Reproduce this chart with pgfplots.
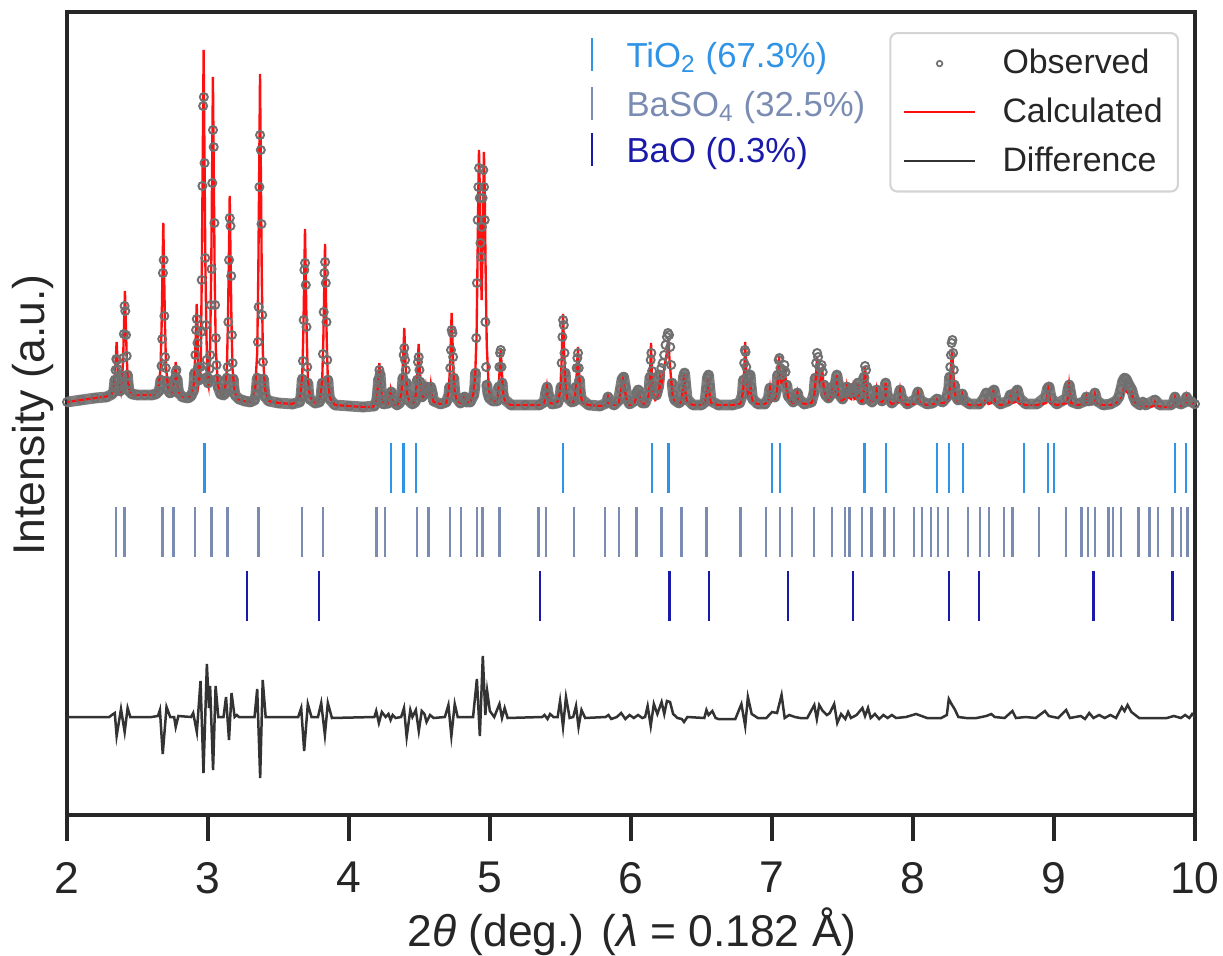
\documentclass[border=0pt]{standalone}
\usepackage{fontspec}
\setmainfont{Liberation Sans}
\usepackage{pgfplots}
\usepackage{pgfplotstable}
\pgfplotsset{compat=1.18}
\definecolor{dark}{HTML}{262626}
\definecolor{obsgray}{HTML}{707070}
\definecolor{calcred}{HTML}{FF1010}
\definecolor{diffcol}{HTML}{333333}
\definecolor{tiocol}{HTML}{2F93E6}
\definecolor{basocol}{HTML}{7B8CB3}
\definecolor{baocol}{HTML}{1A1AAA}
\definecolor{leggray}{HTML}{D4D4D4}
\pgfplotsset{linelegend/.style={legend image code/.code={\draw[##1] (0pt,0pt) -- (25.6pt,0pt);}}}

\pgfplotstableread{
x y
2.00 413
2.10 415
2.20 417
2.28 418
2.322 421
2.3295 423
2.3345 427
2.3395 435
2.3445 445
2.3495 456
2.3545 455
2.3595 446
2.3645 436
2.3695 428
2.376 424
2.3835 425
2.3885 430
2.3935 439
2.3985 457
2.4035 481
2.4085 509
2.4135 504
2.4185 480
2.4235 459
2.4285 440
2.4335 431
2.441 424
2.46 421
2.50 420
2.55 420
2.60 420
2.63 421
2.653 424
2.6605 429
2.6655 435
2.6705 449
2.6755 476
2.6805 542
2.6855 555
2.6905 499
2.6955 458
2.7005 447
2.7055 434
2.713 426
2.73 422
2.756 424
2.761 430
2.766 437
2.771 443
2.776 445
2.781 436
2.786 428
2.793 422
2.82 418
2.86 417
2.88 419
2.8955 424
2.9005 430
2.9055 442
2.9105 460
2.9155 485
2.9205 496
2.9255 472
2.9305 448
2.9355 435
2.9405 437
2.9455 448
2.9505 483
2.9555 535
2.9605 629
2.9655 709
2.9705 718
2.9755 652
2.9805 557
2.9855 490
2.9905 455
2.9955 438
3.0005 432
3.0055 436
3.0105 446
3.0155 460
3.0205 510
3.0255 546
3.0305 632
3.0355 685
3.0405 668
3.0455 592
3.0505 510
3.0555 477
3.0605 450
3.0655 436
3.072 428
3.09 421
3.11 420
3.1245 422
3.1295 428
3.1345 437
3.1395 448
3.1445 493
3.1495 555
3.1545 597
3.1595 589
3.1645 539
3.1695 480
3.1745 452
3.1795 436
3.1845 426
3.192 420
3.22 416
3.26 414
3.30 413
3.33 415
3.3395 420
3.3445 428
3.3495 437
3.3545 473
3.3595 508
3.3645 628
3.3695 680
3.3745 665
3.3795 591
3.3845 500
3.3895 453
3.3945 436
3.3995 425
3.407 418
3.43 414
3.50 412
3.60 411
3.65 413
3.6585 418
3.6635 425
3.6685 436
3.6735 454
3.6785 495
3.6835 545
3.6885 552
3.6935 530
3.6985 488
3.7035 448
3.7085 432
3.7135 422
3.721 416
3.76 412
3.79 413
3.8005 417
3.8055 424
3.8105 432
3.8155 461
3.8205 503
3.8255 542
3.8305 553
3.8355 532
3.8405 493
3.8455 455
3.8505 435
3.8555 424
3.863 416
3.90 410
4.00 409
4.10 408
4.18 409
4.1955 414
4.2005 419
4.2055 427
4.2105 436
4.2155 445
4.2205 441
4.2255 431
4.2305 421
4.2355 415
4.245 411
4.28 412
4.29 420
4.30 423
4.31 415
4.34 410
4.36 412
4.3725 419
4.3775 427
4.3825 437
4.3875 460
4.3925 467
4.3975 455
4.4025 445
4.4075 432
4.4125 422
4.42 415
4.45 411
4.47 413
4.4795 420
4.4845 435
4.4895 453
4.4945 458
4.4995 445
4.5045 433
4.5095 424
4.517 418
4.53 420
4.54 426
4.55 428
4.56 422
4.57 425
4.58 428
4.59 422
4.60 414
4.65 411
4.69 413
4.7085 420
4.7135 428
4.7185 447
4.7235 465
4.7285 485
4.7335 482
4.7385 458
4.7435 437
4.7485 425
4.756 418
4.79 412
4.81 416
4.82 418
4.83 413
4.86 413
4.885 420
4.8925 428
4.8975 442
4.9025 477
4.9075 532
4.9125 595
4.9175 628
4.9225 647
4.9275 617
4.9325 572
4.9375 558
4.9425 588
4.9475 617
4.9525 645
4.9575 628
4.9625 595
4.9675 493
4.9725 448
4.9775 430
4.985 422
4.995 417
5.02 414
5.05 414
5.0615 428
5.0665 448
5.0715 462
5.0765 465
5.0815 448
5.0865 432
5.0915 422
5.10 416
5.15 410
5.25 410
5.35 410
5.385 413
5.395 422
5.405 428
5.415 420
5.44 411
5.48 412
5.4985 420
5.5035 428
5.5085 452
5.5135 478
5.5185 495
5.5235 490
5.5285 462
5.5335 442
5.5385 428
5.546 418
5.58 413
5.60 414
5.6095 428
5.6145 447
5.6195 457
5.6245 462
5.6295 447
5.6345 435
5.6395 424
5.647 416
5.70 410
5.78 409
5.827 412
5.837 418
5.847 413
5.88 410
5.91 414
5.925 426
5.937 436
5.948 438
5.96 428
5.975 415
5.99 411
6.025 414
6.04 422
6.052 425
6.065 420
6.08 412
6.10 412
6.122 420
6.1295 428
6.1345 438
6.1395 455
6.1445 462
6.1495 444
6.1545 430
6.162 422
6.18 420
6.195 428
6.205 440
6.215 447
6.225 452
6.235 460
6.245 470
6.255 478
6.262 482
6.270 480
6.278 468
6.285 450
6.292 432
6.30 421
6.31 415
6.34 412
6.355 414
6.365 427
6.372 438
6.38 442
6.388 430
6.398 416
6.44 410
6.50 410
6.525 413
6.535 426
6.542 437
6.55 440
6.558 428
6.568 414
6.62 410
6.72 410
6.77 412
6.79 420
6.797 435
6.8025 452
6.8075 465
6.8125 463
6.8175 448
6.8225 438
6.83 432
6.838 438
6.845 440
6.852 428
6.862 416
6.90 411
6.95 411
6.975 417
6.985 427
6.995 420
7.02 418
7.032 425
7.04 440
7.0475 455
7.0525 457
7.06 447
7.07 440
7.08 445
7.088 450
7.096 443
7.105 430
7.115 419
7.15 413
7.17 416
7.18 422
7.19 416
7.23 411
7.28 413
7.298 422
7.306 437
7.313 452
7.32 462
7.327 458
7.335 448
7.343 447
7.352 450
7.36 443
7.37 430
7.38 420
7.40 417
7.415 420
7.425 428
7.435 424
7.45 432
7.46 440
7.47 432
7.48 420
7.50 416
7.52 422
7.53 428
7.54 424
7.56 422
7.574 427
7.585 423
7.60 428
7.61 432
7.62 420
7.64 415
7.645 425
7.652 438
7.66 449
7.667 445
7.675 428
7.685 416
7.71 413
7.73 418
7.742 425
7.754 418
7.78 414
7.795 420
7.806 432
7.817 420
7.85 412
7.895 418
7.908 425
7.92 417
7.96 411
8.02 416
8.035 423
8.05 415
8.10 411
8.14 412
8.17 416
8.21 413
8.24 418
8.2545 427
8.2595 438
8.2645 448
8.2695 460
8.2745 472
8.2795 475
8.2845 462
8.2895 445
8.2945 430
8.30 420
8.32 415
8.34 416
8.35 421
8.36 415
8.40 411
8.47 411
8.50 416
8.52 422
8.54 418
8.56 423
8.575 425
8.59 415
8.62 411
8.675 414
8.69 420
8.705 418
8.725 422
8.74 425
8.755 417
8.80 411
8.88 411
8.94 418
8.955 427
8.965 428
8.98 417
9.02 411
9.09 417
9.10 426
9.108 430
9.118 422
9.13 413
9.17 411
9.22 414
9.23 418
9.24 414
9.275 415
9.29 422
9.305 414
9.35 410
9.40 411
9.44 414
9.46 418
9.475 426
9.488 434
9.50 437
9.512 436
9.525 432
9.54 428
9.552 425
9.565 418
9.58 413
9.61 410
9.63 413
9.65 410
9.716 415
9.75 410
9.83 410
9.845 412
9.858 418
9.87 413
9.90 411
9.93 413
9.94 418
9.95 414
9.98 413
10.00 411
}\tobs

\pgfplotstableread{
x y
2.00 413
2.10 415
2.20 417
2.28 418.5
2.317 421
2.332 427
2.340 441
2.347 459
2.352 473
2.357 459
2.364 441
2.372 429
2.382 423
2.391 435
2.399 461
2.406 498
2.411 524
2.416 498
2.423 461
2.431 435
2.446 423
2.47 420
2.55 420
2.62 420
2.648 427
2.663 446
2.671 489
2.678 549
2.683 592
2.688 549
2.695 489
2.703 446
2.718 427
2.74 421
2.751 423
2.763 437
2.771 453
2.779 437
2.791 423
2.82 418
2.86 417
2.885 421
2.900 431
2.908 455
2.915 488
2.920 511
2.925 488
2.929 455
2.934 432
2.944 440
2.949 452
2.957 556
2.964 678
2.969 765
2.974 678
2.981 556
2.989 478
2.998 435
3.004 430
3.015 467
3.023 545
3.030 658
3.035 738
3.040 658
3.047 545
3.055 467
3.070 430
3.09 421
3.11 420
3.119 423
3.134 446
3.142 497
3.149 568
3.154 619
3.159 568
3.166 497
3.174 446
3.189 423
3.21 416
3.25 414
3.30 413
3.334 426
3.349 462
3.357 544
3.364 659
3.369 741
3.374 659
3.381 544
3.389 462
3.404 426
3.43 414
3.50 412
3.60 411
3.653 418
3.668 437
3.676 481
3.683 542
3.688 586
3.693 542
3.700 481
3.708 437
3.723 418
3.76 412
3.795 417
3.810 435
3.818 475
3.825 531
3.830 571
3.835 531
3.842 475
3.850 435
3.865 417
3.90 410
4.00 409
4.10 408
4.17 408
4.180 411
4.195 415
4.203 426
4.210 441
4.215 452
4.220 441
4.227 426
4.235 415
4.25 411
4.275 411
4.287 418
4.295 425
4.303 418
4.315 411
4.34 410
4.357 413
4.372 422
4.380 441
4.387 468
4.392 487
4.397 468
4.404 441
4.412 422
4.427 413
4.45 411
4.459 413
4.474 420
4.482 435
4.489 456
4.494 471
4.499 456
4.506 435
4.514 420
4.525 416
4.537 420
4.545 428
4.553 419
4.562 419
4.572 420
4.580 430
4.588 420
4.60 413
4.65 411
4.69 412
4.693 415
4.708 425
4.716 447
4.723 479
4.728 502
4.733 479
4.740 447
4.748 425
4.763 415
4.79 412
4.806 412
4.816 418
4.826 412
4.86 413
4.880 420
4.895 440
4.905 480
4.913 570
4.918 630
4.922 665
4.927 630
4.933 560
4.941 515
4.948 570
4.953 630
4.957 663
4.962 628
4.969 545
4.977 470
4.992 425
5.01 416
5.041 412
5.056 419
5.064 433
5.071 453
5.076 467
5.081 453
5.088 433
5.096 419
5.111 412
5.15 410
5.25 410
5.35 410
5.384 412
5.396 419
5.404 428
5.412 419
5.424 412
5.46 411
5.483 414
5.498 424
5.506 446
5.513 478
5.518 501
5.523 478
5.530 446
5.538 424
5.553 414
5.58 412
5.589 412
5.604 419
5.612 433
5.619 453
5.624 468
5.629 453
5.636 433
5.644 419
5.659 412
5.70 410
5.78 409
5.825 410
5.837 418
5.849 410
5.90 410
5.913 412
5.931 426
5.943 435
5.955 426
5.973 412
5.99 410
6.02 411
6.038 418
6.05 422
6.062 418
6.08 411
6.10 411
6.112 414
6.127 421
6.135 436
6.142 472
6.149 436
6.157 421
6.172 415
6.195 418
6.206 435
6.214 428
6.228 440
6.245 455
6.258 465
6.265 477
6.272 458
6.282 440
6.295 420
6.31 413
6.34 411
6.356 413
6.368 425
6.376 440
6.384 425
6.396 413
6.44 410
6.50 410
6.526 412
6.538 424
6.546 437
6.554 424
6.566 412
6.62 410
6.72 410
6.77 411
6.785 414
6.798 428
6.805 452
6.81 473
6.815 452
6.822 430
6.830 422
6.837 425
6.844 435
6.852 420
6.865 413
6.90 411
6.95 411
6.974 414
6.986 427
6.998 414
7.02 416
7.035 423
7.044 440
7.05 458
7.057 438
7.068 432
7.080 432
7.09 448
7.10 430
7.115 417
7.15 412
7.17 414
7.18 422
7.19 414
7.23 411
7.28 412
7.300 420
7.312 440
7.32 458
7.328 440
7.340 432
7.348 435
7.355 448
7.365 430
7.38 418
7.40 415
7.417 418
7.425 428
7.435 418
7.450 420
7.46 440
7.47 420
7.49 414
7.52 417
7.53 428
7.54 418
7.562 416
7.574 427
7.585 416
7.60 417
7.61 432
7.62 415
7.64 413
7.648 420
7.655 435
7.66 449
7.666 435
7.675 418
7.70 413
7.732 415
7.742 425
7.752 415
7.78 413
7.795 416
7.806 432
7.817 416
7.85 411
7.896 413
7.908 425
7.92 413
7.96 410
8.022 412
8.035 422
8.048 412
8.10 410
8.14 411
8.16 411
8.17 415
8.18 412
8.21 412
8.24 413
8.252 416
8.262 427
8.270 448
8.277 466
8.284 448
8.292 427
8.305 416
8.32 413
8.34 413
8.35 420
8.36 413
8.40 410
8.47 410
8.505 411
8.52 417
8.535 411
8.557 412
8.57 423
8.583 412
8.62 410
8.678 411
8.69 420
8.702 412
8.728 413
8.74 422
8.752 412
8.80 410
8.88 410
8.945 412
8.96 426
8.975 412
9.02 410
9.094 412
9.107 430
9.12 412
9.17 410
9.22 411
9.23 418
9.24 411
9.278 411
9.29 420
9.302 411
9.35 410
9.40 410
9.44 412
9.485 418
9.50 430
9.512 424
9.525 422
9.55 423
9.565 414
9.59 411
9.62 409
9.63 412
9.64 409
9.68 408
9.706 409
9.716 413
9.726 409
9.78 408
9.83 408
9.846 409
9.858 417
9.87 409
9.90 409
9.93 410
9.94 418
9.95 411
9.97 410
9.98 413
9.99 410
10.00 410
}\tcalc

\pgfplotstableread{
x y
2.00 98
2.30 98
2.318 100
2.339 102
2.352 79
2.383 106
2.409 83
2.430 107
2.449 98
2.60 98
2.645 99
2.659 105
2.679 61
2.706 108
2.732 98
2.760 98
2.771 88
2.790 99
2.88 98
2.895 102
2.921 83
2.947 134
2.968 42
2.992 151
3.007 107
3.015 129
3.036 45
3.054 129
3.073 98
3.11 98
3.128 118
3.149 75
3.167 122
3.189 98
3.205 100
3.22 98
3.33 98
3.349 126
3.370 37
3.388 135
3.409 98
3.64 98
3.661 107
3.682 64
3.708 111
3.734 98
3.78 98
3.803 112
3.829 80
3.850 112
3.879 97
4.18 98
4.193 104
4.212 92
4.233 103
4.26 98
4.28 101
4.295 95
4.31 100
4.33 97
4.37 98
4.390 107
4.409 78
4.435 105
4.45 98
4.474 105
4.495 84
4.516 104
4.535 101
4.55 93
4.575 100
4.60 97
4.68 98
4.705 110
4.726 79
4.750 111
4.771 98
4.88 98
4.907 136
4.928 79
4.949 159
4.967 100
4.980 124
4.999 104
5.03 98
5.067 111
5.085 97
5.104 107
5.125 97
5.37 98
5.387 100
5.408 96
5.426 101
5.45 98
5.48 98
5.497 114
5.518 88
5.539 118
5.565 97
5.59 98
5.610 109
5.628 88
5.649 105
5.675 97
5.82 98
5.84 100
5.86 96
5.90 98
5.93 102
5.96 96
5.99 100
6.02 97
6.05 100
6.08 97
6.10 98
6.118 109
6.140 89
6.162 111
6.187 101
6.217 113
6.236 101
6.255 114
6.277 113
6.299 101
6.33 97
6.36 96
6.376 93
6.40 98
6.52 97
6.535 105
6.55 100
6.577 104
6.60 97
6.62 96
6.74 96
6.783 111
6.810 89
6.829 118
6.856 101
6.90 97
6.96 97
7.00 103
7.036 102
7.068 120
7.090 97
7.122 100
7.163 98
7.20 97
7.25 97
7.30 110
7.318 96
7.335 110
7.36 104
7.39 100
7.41 102
7.441 111
7.463 92
7.49 101
7.52 96
7.54 103
7.56 97
7.60 100
7.641 107
7.66 99
7.681 107
7.70 97
7.73 101
7.76 96
7.79 100
7.82 97
7.85 100
7.88 97
7.95 98
8.022 101
8.10 97
8.20 97
8.24 100
8.254 116
8.273 111
8.295 106
8.322 98
8.377 97
8.45 97
8.52 99
8.555 101
8.58 98
8.65 97
8.705 104
8.73 97
8.80 98
8.87 97
8.936 104
8.963 99
9.03 97
9.086 105
9.113 97
9.19 99
9.22 96
9.25 102
9.28 97
9.32 100
9.36 97
9.40 100
9.44 97
9.481 108
9.500 104
9.522 110
9.549 103
9.604 97
9.70 97
9.80 97
9.85 99
9.90 97
9.93 100
9.96 97
9.98 101
10.00 98
}\tdiff

\pgfplotstableread{
x y
2.976 347
4.299 347
4.387 347
4.477 347
5.518 347
6.148 347
6.266 347
6.999 347
7.057 347
7.657 347
7.809 347
8.170 347
8.257 347
8.355 347
8.786 347
8.957 347
8.999 347
9.857 347
9.937 347
}\ttio

\pgfplotstableread{
x y
2.349 283
2.407 283
2.677 283
2.756 283
2.908 283
3.026 283
3.139 283
3.357 283
3.666 283
3.816 283
4.196 283
4.256 283
4.484 283
4.563 283
4.718 283
4.794 283
4.910 283
4.946 283
5.067 283
5.345 283
5.395 283
5.597 283
5.817 283
5.917 283
6.039 283
6.216 283
6.358 283
6.535 283
6.776 283
6.958 283
7.057 283
7.144 283
7.299 283
7.425 283
7.518 283
7.550 283
7.638 283
7.706 283
7.799 283
7.867 283
8.006 283
8.066 283
8.128 283
8.177 283
8.246 283
8.390 283
8.477 283
8.538 283
8.644 283
8.706 283
8.895 283
9.086 283
9.195 283
9.241 283
9.290 283
9.386 283
9.418 283
9.476 283
9.599 283
9.678 283
9.738 283
9.841 283
9.901 283
9.948 283
}\tbaso

\pgfplotstableread{
x y
3.275 219
3.787 219
5.355 219
6.274 219
6.555 219
7.114 219
7.574 219
8.257 219
8.470 219
9.280 219
9.841 219
}\tbao

\begin{document}
\begin{tikzpicture}
\begin{axis}[
  at={(0,0)}, anchor=south west,
  scale only axis, width=406.08pt, height=289.08pt,
  xmin=2, xmax=10, ymin=0, ymax=803,
  xtick={2,3,4,5,6,7,8,9,10}, ytick=\empty,
  tick align=outside, xtick pos=bottom,
  major tick length=9.3pt,
  every tick/.style={line width=1.2pt, color=dark},
  axis line style={line width=1.44pt, color=dark},
  /pgf/number format/assume math mode=true,
  xticklabel shift=4.2pt,
  xticklabel style={font=\fontsize{16}{19}\selectfont, text=dark},
  xlabel={2\textit{θ} (deg.) (\textit{λ} = 0.182 Å)},
  ylabel={Intensity (a.u.)},
  label style={font=\fontsize{16}{19}\selectfont, text=dark},
  xlabel style={at={(axis description cs:0.5009,-0.145)}, anchor=center},
  ylabel style={at={(axis description cs:-0.0301,0.498)}, anchor=center},
  legend cell align=left,
  legend style={at={(rel axis cs:0.9858,0.975)}, anchor=north east,
    draw=leggray, line width=0.75pt, rounded corners=2.5pt, fill=white,
    font=\fontsize{12.2}{14}\selectfont, text=dark,
    inner xsep=4.5pt, inner ysep=4.8pt, row sep=5.2pt,
    nodes={inner sep=1pt},
    /tikz/every odd column/.append style={column sep=8.4pt}},
]
% observed band
\addplot[obsgray, line width=3.9pt, opacity=0.9, line join=round, line cap=round,
  restrict y to domain=0:442, unbounded coords=jump, forget plot] table[x=x,y=y] {\tobs};
% observed circles
\addplot[only marks, mark=o, mark size=1.45pt, obsgray, line width=0.7pt,
  legend image code/.code={\draw[obsgray, line width=0.6pt] (12.8pt,0pt) circle (1pt);}]
  table[x=x,y=y] {\tobs};
\addlegendentry{Observed}
% calculated
\addplot[calcred, line width=0.85pt, linelegend] table[x=x,y=y] {\tcalc};
\addlegendentry{Calculated}
% difference
\addplot[diffcol, line width=0.9pt, linelegend] table[x=x,y=y] {\tdiff};
\addlegendentry{Difference}
% reflection ticks
\addplot[only marks, mark=|, mark size=9pt, tiocol, line width=0.85pt, forget plot] table[x=x,y=y] {\ttio};
\addplot[only marks, mark=|, mark size=9pt, basocol, line width=0.85pt, forget plot] table[x=x,y=y] {\tbaso};
\addplot[only marks, mark=|, mark size=9pt, baocol, line width=0.85pt, forget plot] table[x=x,y=y] {\tbao};
% phase labels
\node[anchor=base, inner sep=0pt, text=tiocol] at (axis cs:5.7234,748) {\rule[-1.45pt]{0.85pt}{11.9pt}};
\node[anchor=base west, inner sep=0pt, text=tiocol, font=\fontsize{12.5}{15}\selectfont] at (axis cs:5.9645,748) {TiO\textsubscript{2} (67.3\%)};
\node[anchor=base, inner sep=0pt, text=basocol] at (axis cs:5.7234,699) {\rule[-1.45pt]{0.85pt}{11.9pt}};
\node[anchor=base west, inner sep=0pt, text=basocol, font=\fontsize{12.5}{15}\selectfont] at (axis cs:5.9645,699) {BaSO\textsubscript{4} (32.5\%)};
\node[anchor=base, inner sep=0pt, text=baocol] at (axis cs:5.7234,653) {\rule[-1.45pt]{0.85pt}{11.9pt}};
\node[anchor=base west, inner sep=0pt, text=baocol, font=\fontsize{12.5}{15}\selectfont] at (axis cs:5.9645,653) {BaO (0.3\%)};
\end{axis}
\pgfresetboundingbox
\path (-24.12pt,-50.4pt) rectangle (416.16pt,293.4pt);
\end{tikzpicture}
\end{document}
